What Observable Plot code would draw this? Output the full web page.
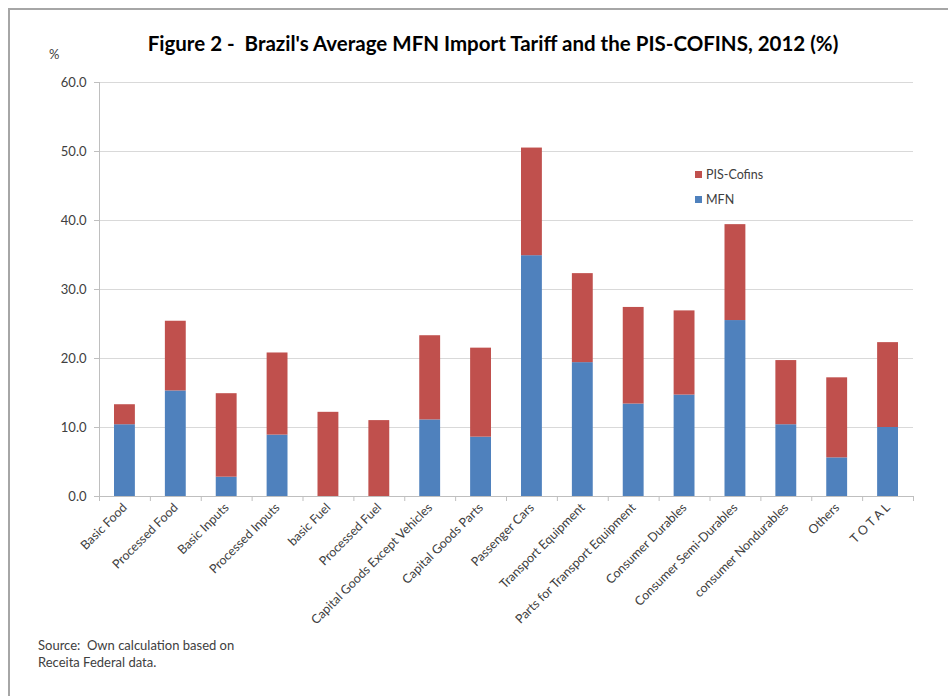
<!DOCTYPE html>
<html>
<head>
<meta charset="utf-8">
<script src="https://cdn.jsdelivr.net/npm/d3@7"></script>
<script src="https://cdn.jsdelivr.net/npm/@observablehq/plot@0.6"></script>
<style>
  html, body { margin: 0; padding: 0; background: #fff; }
  #wrap { position: relative; width: 948px; height: 696px; overflow: hidden; font-family: Lato, sans-serif; }
  #frame { position: absolute; left: 8px; top: 8px; width: 960px; height: 720px; border-left: 2px solid #a6a6a6; border-top: 2px solid #a6a6a6; }
  .abs { position: absolute; white-space: pre; color: #404040; }
  #title { left: 0; width: 986px; top: 31px; text-align: center; font-weight: bold; font-size: 20.5px; color: #000; }
  #pct { left: 49px; top: 46px; font-size: 13px; }
  #source { left: 38px; top: 637px; font-size: 13px; line-height: 17px; }
  .leg { font-size: 12.5px; left: 695px; }
  .sw { display: inline-block; width: 7px; height: 7px; margin-right: 4px; vertical-align: 1px; }
</style>
</head>
<body>
<div id="wrap">
  <div id="frame"></div>
  <div id="chart"></div>
  <div class="abs" id="title">Figure 2 -  Brazil's Average MFN Import Tariff and the PIS-COFINS, 2012 (%)</div>
  <div class="abs" id="pct">%</div>
  <div class="abs leg" style="top:167px"><span class="sw" style="background:#C0504D"></span>PIS-Cofins</div>
  <div class="abs leg" style="top:192px"><span class="sw" style="background:#4F81BD"></span>MFN</div>
  <div class="abs" id="source">Source:  Own calculation based on
Receita Federal data.</div>
</div>
<script>
const categories = ["Basic Food","Processed Food","Basic Inputs","Processed Inputs","basic Fuel","Processed Fuel","Capital Goods Except Vehicles","Capital Goods Parts","Passenger Cars","Transport Equipment","Parts for Transport Equipment","Consumer Durables","Consumer Semi-Durables","consumer Nondurables","Others","T O T A L"];
const mfn = [10.4, 15.3, 2.8, 8.9, 0, 0, 11.1, 8.6, 34.9, 19.4, 13.4, 14.7, 25.5, 10.4, 5.6, 10.0];
const pisCofins = [2.9, 10.1, 12.1, 11.9, 12.2, 11.0, 12.2, 12.9, 15.6, 12.9, 14.0, 12.2, 13.9, 9.3, 11.6, 12.3];
const yTicks = [0, 10, 20, 30, 40, 50, 60];

const rows = categories.map((c, i) => ({cat: c, i, i1: i + 1, mfn: mfn[i], total: mfn[i] + pisCofins[i]}));
const n = categories.length;
const axisColor = "#bfbfbf";
const inset = 15;

const chart = Plot.plot({
  width: 948, height: 696,
  marginLeft: 99, marginRight: 35, marginTop: 82, marginBottom: 200,
  style: {fontFamily: "Lato, sans-serif", fontSize: "12.5px", color: "#404040", background: "transparent", overflow: "visible"},
  x: {type: "linear", domain: [0, n], axis: null},
  y: {domain: [0, 60], axis: null},
  marks: [
    Plot.gridY(yTicks.filter(d => d > 0), {stroke: "#d9d9d9", strokeOpacity: 1}),
    Plot.rectY(rows, {x1: "i", x2: "i1", y1: 0, y2: "mfn", fill: "#4F81BD", insetLeft: inset, insetRight: inset}),
    Plot.rectY(rows, {x1: "i", x2: "i1", y1: "mfn", y2: "total", fill: "#C0504D", insetLeft: inset, insetRight: inset}),
    Plot.ruleY([0], {stroke: axisColor}),
    Plot.ruleX([0], {stroke: axisColor}),
    Plot.axisY(yTicks, {tickFormat: d => d.toFixed(1), tickSize: 5, tickPadding: 8, stroke: axisColor, label: null, fill: "#404040", fontSize: 13}),
    Plot.axisX(d3.range(n + 1), {tickFormat: () => "", tickSize: 5, stroke: axisColor, label: null}),
    Plot.axisX(rows.map(r => r.i + 0.5), {tickFormat: d => categories[Math.floor(d)], tickSize: 0, tickPadding: 9, tickRotate: -45, label: null, fill: "#404040", fontSize: 12.5})
  ]
});
document.getElementById("chart").appendChild(chart);
</script>
</body>
</html>
